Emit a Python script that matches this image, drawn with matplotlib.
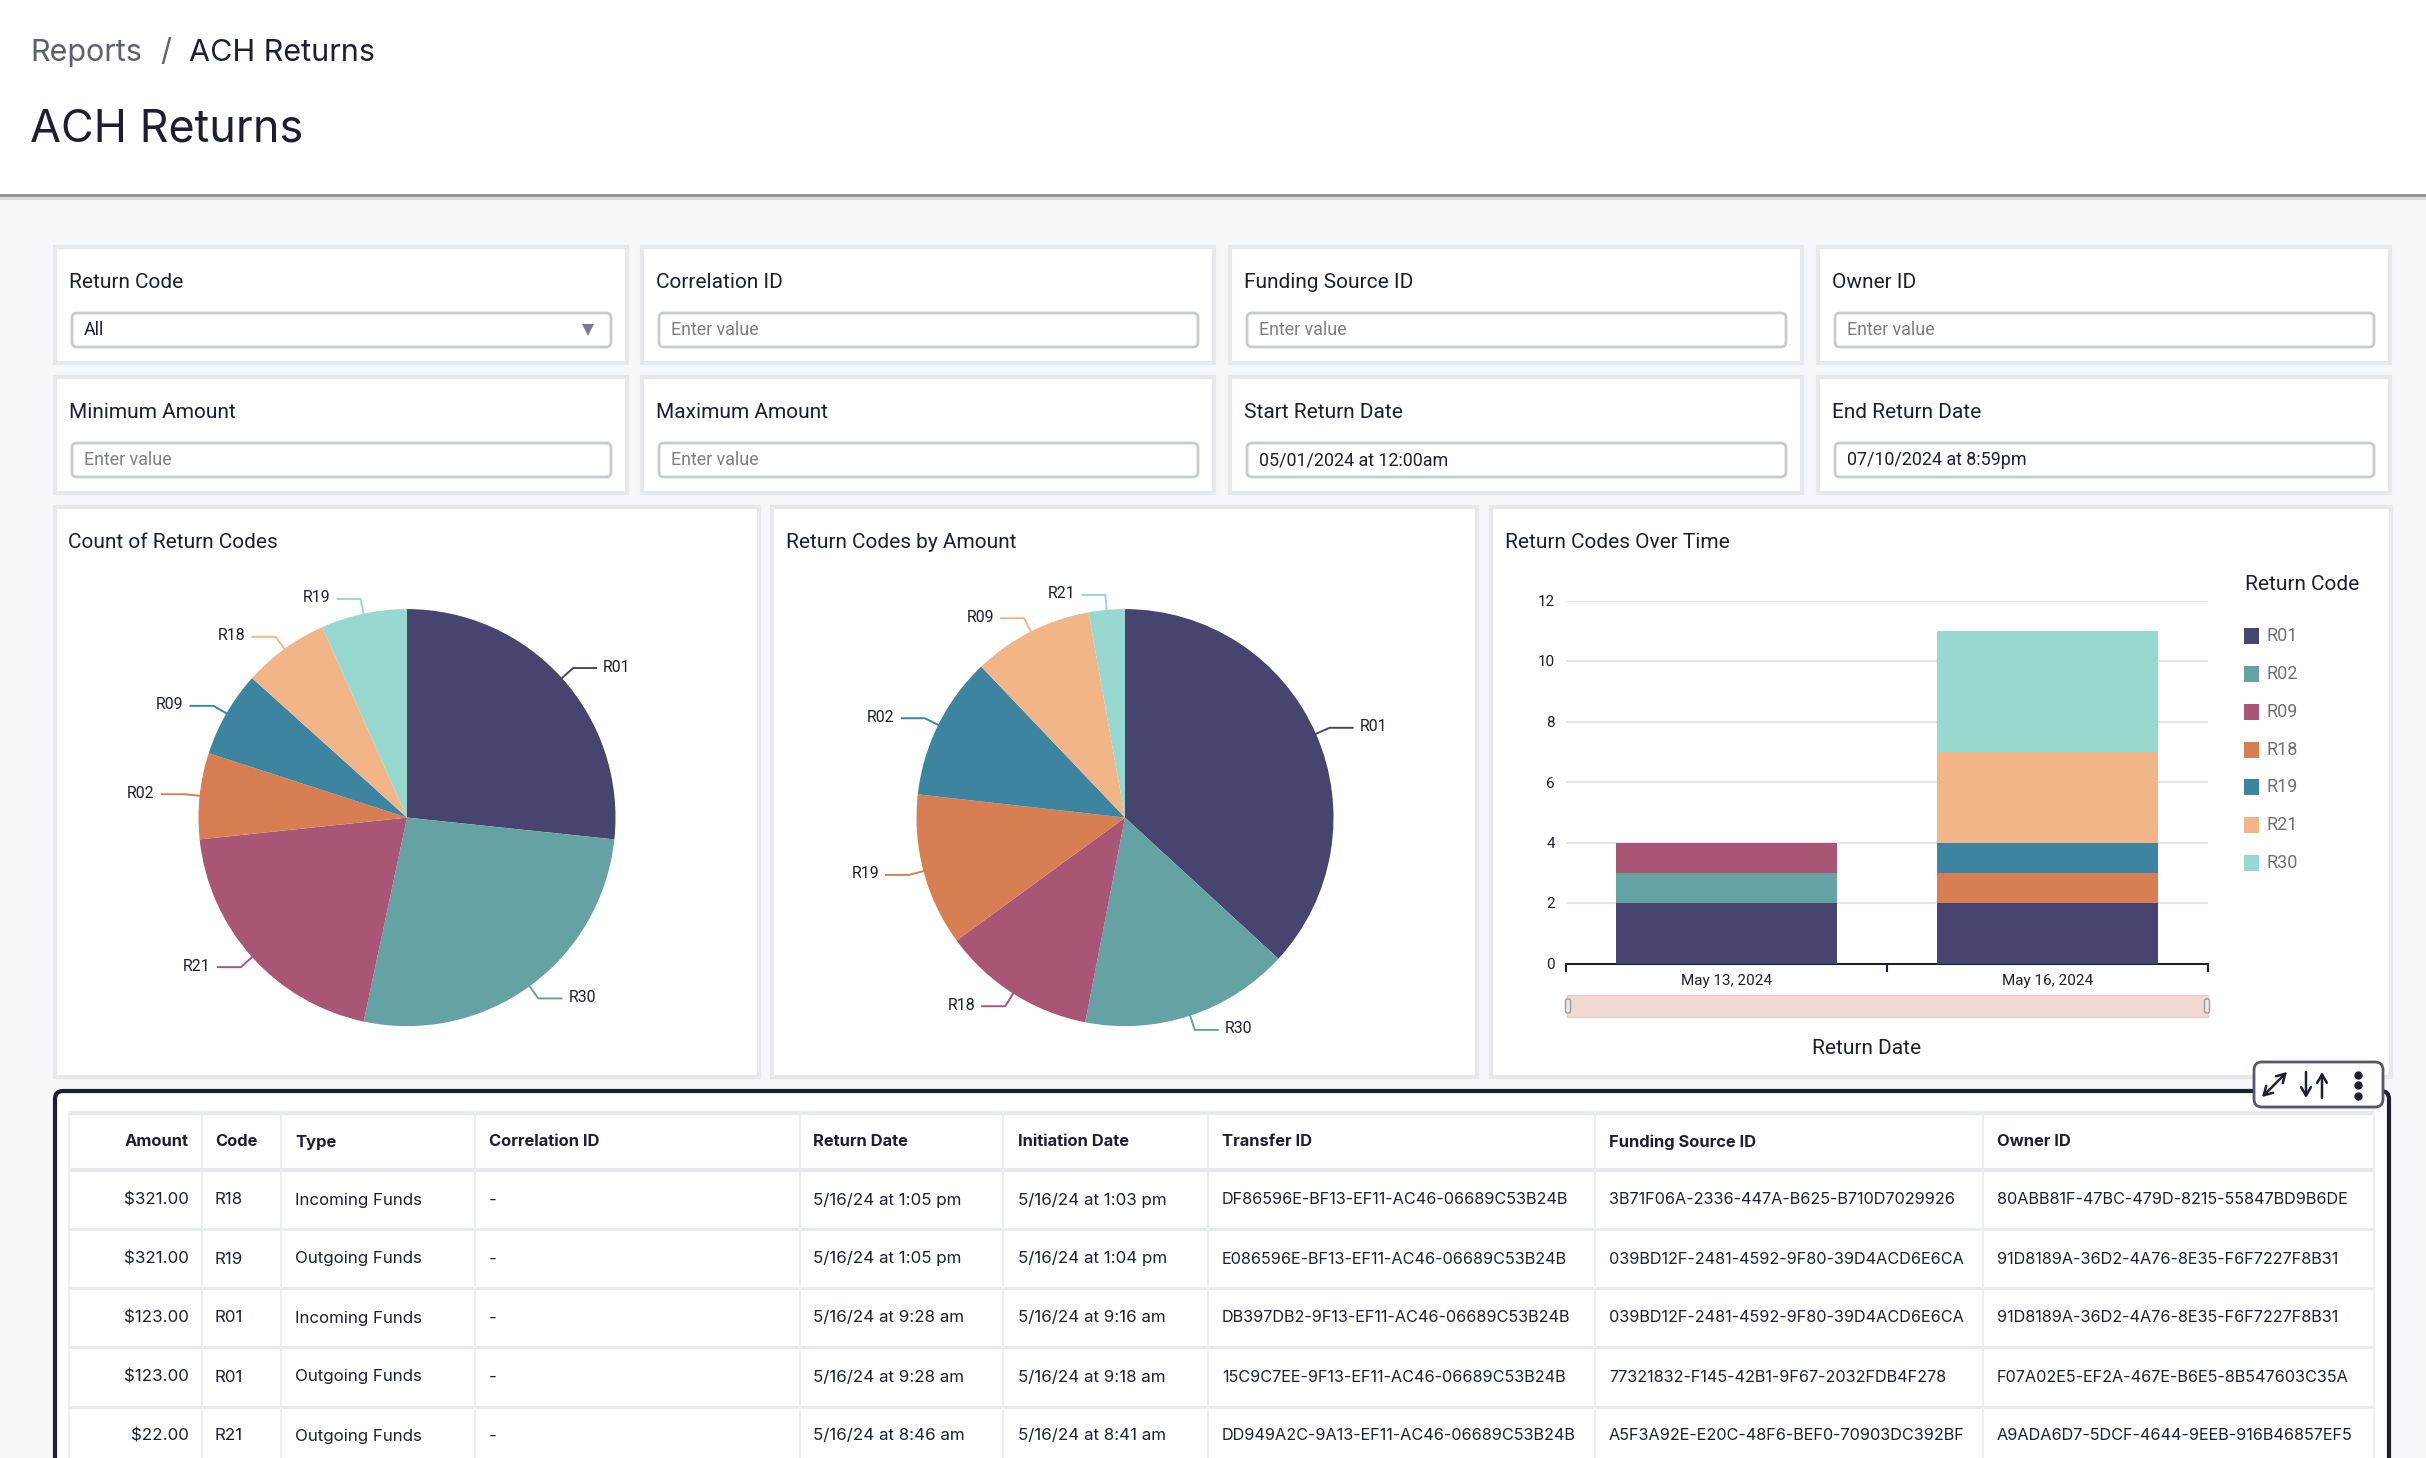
import numpy as np
import matplotlib
matplotlib.use("Agg")
import matplotlib.pyplot as plt
from matplotlib.patches import Rectangle, FancyBboxPatch

# datos
count_codes = ["R01", "R30", "R21", "R02", "R09", "R18", "R19"]
count_values = [4, 4, 3, 1, 1, 1, 1]

amount_codes = ["R01", "R30", "R18", "R19", "R02", "R09", "R21"]
amount_values = [36.8, 16.2, 11.9, 11.8, 11.1, 9.3, 2.8]

bar_dates = ["May 13, 2024", "May 16, 2024"]
legend_codes = ["R01", "R02", "R09", "R18", "R19", "R21", "R30"]
bar_r01 = [2, 2]
bar_r02 = [1, 0]
bar_r09 = [1, 0]
bar_r18 = [0, 1]
bar_r19 = [0, 1]
bar_r21 = [0, 3]
bar_r30 = [0, 4]
y_ticks = [0, 2, 4, 6, 8, 10, 12]

filter_row1 = ["Return Code", "Correlation ID", "Funding Source ID", "Owner ID"]
filter_row2 = ["Minimum Amount", "Maximum Amount", "Start Return Date", "End Return Date"]
filter_val1 = ["All", "Enter value", "Enter value", "Enter value"]
filter_val2 = ["Enter value", "Enter value", "05/01/2024 at 12:00am", "07/10/2024 at 8:59pm"]

table_headers = ["Amount", "Code", "Type", "Correlation ID", "Return Date",
                 "Initiation Date", "Transfer ID", "Funding Source ID", "Owner ID"]
col_amount = ["$321.00", "$321.00", "$123.00", "$123.00", "$22.00"]
col_code = ["R18", "R19", "R01", "R01", "R21"]
col_type = ["Incoming Funds", "Outgoing Funds", "Incoming Funds", "Outgoing Funds", "Outgoing Funds"]
col_corr = ["-", "-", "-", "-", "-"]
col_return = ["5/16/24 at 1:05 pm", "5/16/24 at 1:05 pm", "5/16/24 at 9:28 am",
              "5/16/24 at 9:28 am", "5/16/24 at 8:46 am"]
col_init = ["5/16/24 at 1:03 pm", "5/16/24 at 1:04 pm", "5/16/24 at 9:16 am",
            "5/16/24 at 9:18 am", "5/16/24 at 8:41 am"]
col_transfer = ["DF86596E-BF13-EF11-AC46-06689C53B24B", "E086596E-BF13-EF11-AC46-06689C53B24B",
                "DB397DB2-9F13-EF11-AC46-06689C53B24B", "15C9C7EE-9F13-EF11-AC46-06689C53B24B",
                "DD949A2C-9A13-EF11-AC46-06689C53B24B"]
col_funding = ["3B71F06A-2336-447A-B625-B710D7029926", "039BD12F-2481-4592-9F80-39D4ACD6E6CA",
               "039BD12F-2481-4592-9F80-39D4ACD6E6CA", "77321832-F145-42B1-9F67-2032FDB4F278",
               "A5F3A92E-E20C-48F6-BEF0-70903DC392BF"]
col_owner = ["80ABB81F-47BC-479D-8215-55847BD9B6DE", "91D8189A-36D2-4A76-8E35-F6F7227F8B31",
             "91D8189A-36D2-4A76-8E35-F6F7227F8B31", "F07A02E5-EF2A-467E-B6E5-8B547603C35A",
             "A9ADA6D7-5DCF-4644-9EEB-916B46857EF5"]

palette = ["#47456F", "#65A2A4", "#A85576", "#D77F52", "#3C849F", "#F2B587", "#98D9CF"]
dark = "#1D1D33"
card_edge = "#E7E8EC"
W, H = 2426, 1458

fig = plt.figure(figsize=(W / 100, H / 100), dpi=100, facecolor="#F5F7FA")
page = fig.add_axes([0, 0, 1, 1])
page.set_xlim(0, W)
page.set_ylim(H, 0)
page.axis("off")


def px_axes(x0, y0, x1, y1):
    # ejes ubicados en pixeles de la captura
    return fig.add_axes([x0 / W, 1 - y1 / H, (x1 - x0) / W, (y1 - y0) / H])


def card(x0, y0, x1, y1):
    page.add_patch(Rectangle((x0, y0), x1 - x0, y1 - y0, fc="white", ec=card_edge, lw=3))


def rounded(x0, y0, x1, y1, ec, lw, fc="white", pad=5, z=2):
    box = FancyBboxPatch((x0, y0), x1 - x0, y1 - y0, boxstyle=f"round,pad=0,rounding_size={pad}",
                         fc=fc, ec=ec, lw=lw, zorder=z)
    page.add_patch(box)


def label(x, y, s, size, color=dark, font="Roboto", ha="left", weight="normal", z=5):
    page.text(x, y, s, fontsize=size, color=color, family=font, ha=ha, va="center",
              fontweight=weight, zorder=z)


# encabezado
page.add_patch(Rectangle((0, 0), W, 194, fc="white", ec="none"))
page.plot([0, W], [195, 195], color="#8E8F94", lw=2)
page.plot([0, W], [198, 198], color="#D9DADE", lw=2)
label(30, 53, "Reports", 22, "#5F5F6E", "Inter")
label(160, 53, "/", 22, "#5F5F6E", "Inter")
label(189, 53, "ACH Returns", 22, dark, "Inter")
label(30, 129, "ACH Returns", 32.3, dark, "Inter")

# filtros
col_x = [55, 642, 1230, 1818]
for row, (labels, values) in enumerate([(filter_row1, filter_val1), (filter_row2, filter_val2)]):
    top = 247 + row * 130
    for i, cx in enumerate(col_x):
        card(cx, top, cx + 572, top + 116)
        label(cx + 14, top + 35, labels[i], 15)
        rounded(cx + 17, top + 66, cx + 556, top + 100, "#C9CACF", 2)
        val = values[i]
        label(cx + 29, top + 83, val, 12.9, "#7C7D85" if val == "Enter value" else dark)
page.plot([588], [330], marker="v", ms=9, color="#7B7C84", mew=0, zorder=5)

# tarjetas de graficos
card(55, 507, 759, 1077)
card(772, 507, 1477, 1077)
card(1491, 507, 2391, 1077)
label(68, 542, "Count of Return Codes", 15)
label(786, 542, "Return Codes by Amount", 15)
label(1505, 542, "Return Codes Over Time", 15)


def draw_pie(cx, cy, values, codes):
    r = 208.5
    half_w, half_h = 340, 270
    ax = px_axes(cx - half_w, cy - half_h, cx + half_w, cy + half_h)
    wedges, _ = ax.pie(values, colors=palette, startangle=90, counterclock=False, radius=r,
                       wedgeprops={"linewidth": 0})
    ax.set_xlim(-half_w, half_w)
    ax.set_ylim(-half_h, half_h)
    for w, code in zip(wedges, codes):
        ang = np.deg2rad((w.theta1 + w.theta2) / 2)
        ux, uy = np.cos(ang), np.sin(ang)
        side = 1 if ux > 0 else -1
        xa, ya = (r + 15) * ux, (r + 15) * uy
        ax.plot([r * ux, xa, xa + side * 23], [r * uy, ya, ya], color=w.get_facecolor(), lw=1.4)
        ax.text(xa + side * 30, ya + 1, code, fontsize=11.4, family="Roboto", color=dark,
                ha="left" if side > 0 else "right", va="center")


draw_pie(407, 817.6, count_values, count_codes)
draw_pie(1125, 817.6, amount_values, amount_codes)

# barras apiladas
ax = px_axes(1566, 600.5, 2208, 963.5)
ax.patch.set_alpha(0)
series = [bar_r01, bar_r02, bar_r09, bar_r18, bar_r19, bar_r21, bar_r30]
bottom = [0, 0]
for vals, color in zip(series, palette):
    ax.bar([0, 1], vals, width=0.69, bottom=bottom, color=color, linewidth=0, zorder=3)
    bottom = [b + v for b, v in zip(bottom, vals)]
ax.set_xlim(-0.5, 1.5)
ax.set_ylim(0, 12)
ax.set_yticks(y_ticks)
ax.set_xticks([-0.5, 0.5, 1.5])
ax.set_xticklabels([])
ax.set_xticks([0, 1], bar_dates, minor=True)
ax.tick_params(axis="x", which="major", length=5.5, width=1.5, color=dark)
ax.tick_params(axis="x", which="minor", length=0, pad=7.5, labelsize=11, labelcolor=dark)
ax.tick_params(axis="y", length=0, pad=8, labelsize=11, labelcolor=dark)
for t in ax.get_xticklabels(minor=True) + ax.get_yticklabels():
    t.set_family("Roboto")
ax.grid(axis="y", color="#E6E6E8", lw=1.5, zorder=0)
ax.set_axisbelow(True)
for side in ["top", "left", "right"]:
    ax.spines[side].set_visible(False)
ax.spines["bottom"].set_color(dark)
ax.spines["bottom"].set_linewidth(1.5)

# selector de rango bajo el eje
page.add_patch(Rectangle((1567, 995), 641, 22, fc="#EFD9D2", ec="#E3CFC8", lw=1))
for hx in [1568, 2207]:
    rounded(hx - 2.5, 999, hx + 2.5, 1013, "#9A9A9A", 1, fc="#EFE9E6", pad=2, z=3)
label(1867, 1048, "Return Date", 15, dark, ha="center")

# leyenda
label(2245, 584, "Return Code", 15)
legend_y = [636, 674, 712, 750, 787, 825, 863]
for code, color, ly in zip(legend_codes, palette, legend_y):
    page.add_patch(Rectangle((2244, ly - 8), 15, 16, fc=color, ec="none"))
    label(2266, ly, code, 13, "#6F7078")

# tabla
rounded(55, 1091, 2389, 1520, dark, 3, pad=8, z=1)
row_lines = [1113, 1170, 1229, 1288, 1347, 1407]
col_lines = [69, 202, 281, 475, 800, 1003, 1208, 1595, 1983, 2374]
for i, y in enumerate(row_lines):
    page.plot([69, 2374], [y, y], color="#E8E9EC", lw=3 if i < 2 else 2, zorder=2, solid_capstyle="butt")
for x in col_lines:
    page.plot([x, x], [1113, H], color="#EDEEF0", lw=1.5, zorder=2)

text_x = [189, 215, 295, 489, 813, 1018, 1222, 1609, 1997]
columns = [col_amount, col_code, col_type, col_corr, col_return, col_init, col_transfer, col_funding, col_owner]
row_y = [1200, 1259, 1318, 1377, 1436]
for j, (tx, head, col) in enumerate(zip(text_x, table_headers, columns)):
    ha = "right" if j == 0 else "left"
    label(tx, 1142, head, 11.9, dark, "Inter", ha=ha, weight="bold")
    size = 11.7 if j >= 6 else 12.2
    for y, val in zip(row_y, col):
        label(tx, y, val, size, dark, "Inter", ha=ha)

# barra de herramientas
page.add_patch(FancyBboxPatch((2258, 1070), 123, 40, boxstyle="round,pad=0,rounding_size=8",
                              fc="#00000010", ec="none", zorder=5))
rounded(2254, 1062, 2383, 1107, "#55566A", 2, pad=8, z=6)
arrow = dict(arrowstyle="->,head_length=0.6,head_width=0.35", color=dark, lw=1.8, shrinkA=0, shrinkB=0)
page.annotate("", xy=(2287, 1072), xytext=(2275, 1084), arrowprops=arrow, zorder=7)
page.annotate("", xy=(2262, 1097), xytext=(2274, 1085), arrowprops=arrow, zorder=7)
page.annotate("", xy=(2306, 1098), xytext=(2306, 1072), arrowprops=arrow, zorder=7)
page.annotate("", xy=(2322, 1072), xytext=(2322, 1098), arrowprops=arrow, zorder=7)
page.plot([2358, 2358, 2358], [1075, 1085, 1096], "o", ms=5, color=dark, zorder=7)

fig.savefig("out.png", dpi=100, facecolor=fig.get_facecolor())
